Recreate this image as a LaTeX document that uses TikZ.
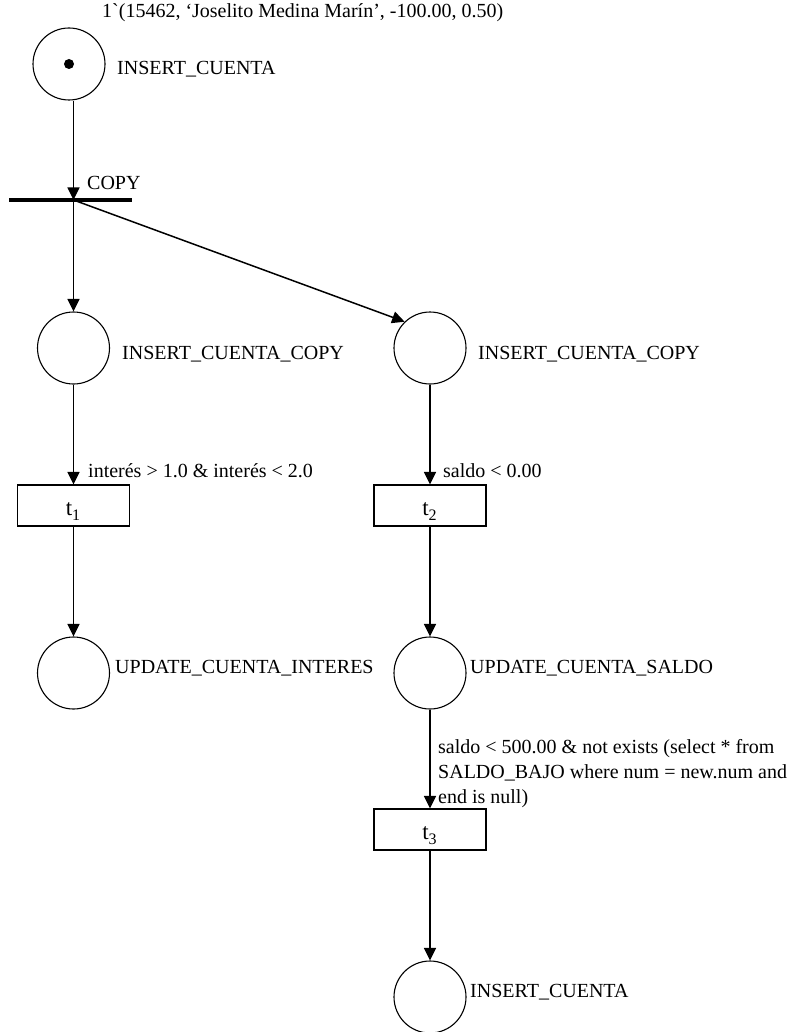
\documentclass[tikz,border=0pt]{standalone}
\usepackage{fontspec}
\setmainfont{Liberation Serif}[Ligatures=TeXOff]
\usetikzlibrary{arrows.meta}
\tikzset{
  place/.style={circle, draw, line width=1.1pt, minimum size=72pt, inner sep=0pt},
  trans/.style={rectangle, draw, line width=1.1pt, minimum width=112pt, minimum height=41pt, inner sep=0pt},
  bar/.style={rectangle, fill=black, minimum width=123pt, minimum height=4pt, inner sep=0pt},
  token/.style={circle, fill=black, minimum size=10pt, inner sep=0pt},
  arc/.style={-{Triangle[length=12.5pt,width=12pt]}, line width=1.5pt},
  lbl/.style={font=\fontsize{20}{25}\selectfont, anchor=base west, inner sep=0pt},
  tlbl/.style={anchor=base, inner sep=0pt},
}
\newcommand{\tname}[1]{{\fontsize{23}{23}\selectfont t}\raisebox{-5pt}{\fontsize{16}{16}\selectfont #1}}
\begin{document}
\begin{tikzpicture}[x=1pt, y=-1pt]
\fill[white] (0,0) rectangle (799,1032);
\useasboundingbox (0,0) rectangle (799,1032);

% top place with token
\node[place] (p0) at (69,64) {};
\node[token] (tok) at (p0.center) {};
\node[lbl] (m0) at (102,18) {1`(15462, ‘Joselito Medina Marín’, -100.00, 0.50)};
\node[lbl] (p0l) at (117,75) {INSERT\_CUENTA};

% COPY transition (bar)
\node[bar] (copy) at (70.5,200) {};
\node[lbl] (copyl) at (87,190) {COPY};

% copy places
\node[place] (p1) at (73.5,348) {};
\node[place] (p2) at (430,348) {};
\node[lbl] (p1l) at (122,359) {INSERT\_CUENTA\_COPY};
\node[lbl] (p2l) at (478,359) {INSERT\_CUENTA\_COPY};

% transitions t1, t2
\node[trans] (t1) at (73.5,505.5) {};
\node[trans] (t2) at (430,505.5) {};
\node[tlbl] (t1l) at (73,515) {\tname{1}};
\node[tlbl] (t2l) at (429.5,515) {\tname{2}};
\node[lbl] (g1) at (88,477) {interés > 1.0 \& interés < 2.0};
\node[lbl] (g2) at (443,477) {saldo < 0.00};

% update places
\node[place] (p3) at (73.5,673) {};
\node[place] (p4) at (430,673) {};
\node[lbl] (p3l) at (115,673) {UPDATE\_CUENTA\_INTERES};
\node[lbl] (p4l) at (470,673) {UPDATE\_CUENTA\_SALDO};

% transition t3
\node[trans] (t3) at (430,829.5) {};
\node[tlbl] (t3l) at (429.5,839) {\tname{3}};
\node[lbl, align=left] (g3) at (438,803) {saldo < 500.00 \& not exists (select * from\\SALDO\_BAJO where num = new.num and\\end is null)};

% final place
\node[place] (p5) at (430,997) {};
\node[lbl] (p5l) at (470,997) {INSERT\_CUENTA};

% arcs
\draw[arc] (p0.south -| p1) -- (copy.center -| p1);
\draw[arc] (copy.center -| p1) -- (p1);
\draw[arc] (copy.center -| p1) -- (p2.134);
\draw[arc] (p1) -- (t1);
\draw[arc] (p2) -- (t2);
\draw[arc] (t1) -- (p3);
\draw[arc] (t2) -- (p4);
\draw[arc] (p4) -- (t3);
\draw[arc] (t3) -- (p5);
\end{tikzpicture}
\end{document}
